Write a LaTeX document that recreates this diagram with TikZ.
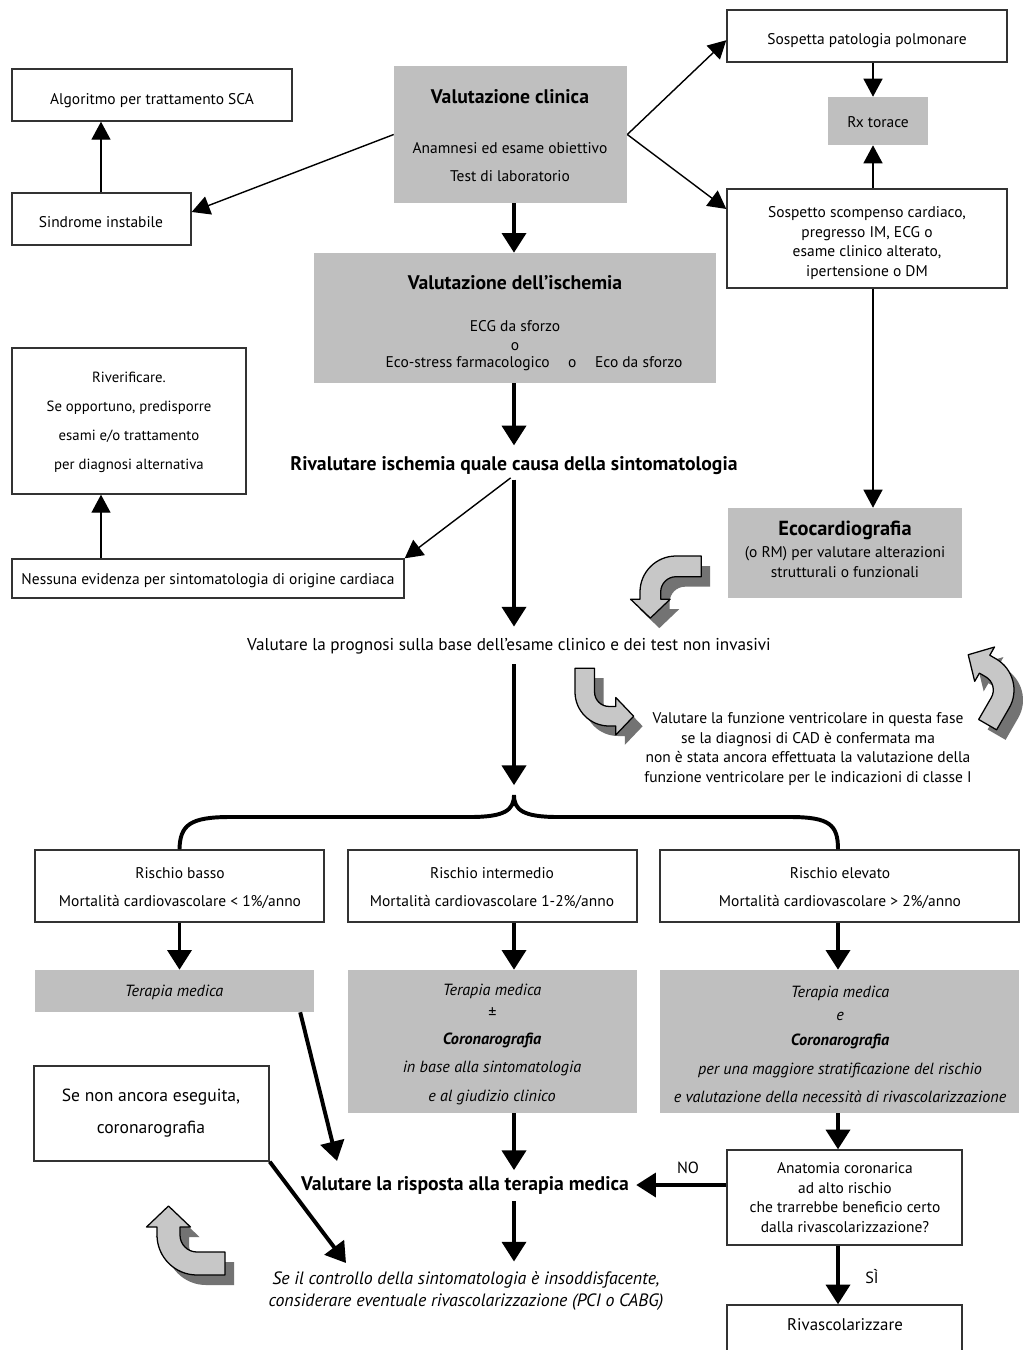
\documentclass[tikz,border=0pt]{standalone}
\usepackage{fontspec}
\setmainfont{PT Sans}
\usetikzlibrary{arrows.meta, fit, positioning}

\definecolor{boxgray}{gray}{0.75}
\definecolor{arrowfill}{gray}{0.78}
\definecolor{arrowshadow}{gray}{0.45}

\tikzset{
  box/.style={draw=black!80, line width=1pt, fill=white, inner sep=0pt},
  graybox/.style={fill=boxgray, inner sep=0pt},
  lbl/.style={inner sep=0pt, align=center, font=\fontsize{11}{13.8}\selectfont},
  ttl/.style={inner sep=0pt, align=center, font=\fontsize{14}{16}\selectfont\bfseries},
  ital/.style={inner sep=0pt, align=center, font=\fontsize{11.5}{13}\selectfont\itshape},
  thinarr/.style={line width=1pt, -{Triangle[length=12.8pt, width=13.5pt]}},
  fatarr/.style={line width=2.8pt, -{Triangle[length=14pt, width=17pt]}},
}

\newcommand{\arrowoutline}{(28,40) -- (0,40) arc[start angle=90, end angle=180, radius=40] -- (-40,-8) -- (-50.5,-8) -- (-28.5,-29) -- (-6.5,-8) -- (-17,-8) -- (-17,0) arc[start angle=180, end angle=90, radius=17] -- (28,17) -- cycle}
\newcommand{\curvedarrow}[2]{%
  \fill[arrowshadow, shift={#1}, shift={(9,10)}, #2] \arrowoutline;
  \filldraw[fill=arrowfill, draw=black, line width=0.9pt, line join=round, shift={#1}, #2] \arrowoutline;}

\begin{document}
\begin{tikzpicture}[x=0.025cm, y=-0.025cm]
\useasboundingbox (0,0) rectangle (1023,1350);
\fill[white] (0,0) rectangle (1023,1350);
\coordinate (ax) at (514,0);
\coordinate (lx) at (101,0);
\coordinate (rxcol) at (873,0);
\coordinate (hx) at (838,0);
\coordinate (bracetip) at (514,795);
\coordinate (risptip) at (337,1161);
\coordinate (ctrltip) at (346,1263);

\node[box, fit={(12,69) (292,121)}] (sca) {};
\node[lbl] (scatxt) at (152,101) {Algoritmo per trattamento SCA};
\node[box, fit={(12,193) (191,245)}] (instab) {};
\node[lbl] (instabtxt) at (101,222) {Sindrome instabile};
\node[graybox, fit={(394,66) (627,203)}] (clin) {};
\node[ttl] (clintitle) at (510,97) {Valutazione clinica};
\node[lbl, font=\fontsize{11}{20}\selectfont] (clintxt) at (510,162) {Anamnesi ed esame obiettivo\\Test di laboratorio};
\node[box, fit={(727,10) (1007,62)}] (polm) {};
\node[lbl] (polmtxt) at (867,41) {Sospetta patologia polmonare};
\node[graybox, fit={(828,97) (928,145)}] (torace) {};
\node[lbl] (toracetxt) at (878,122) {Rx torace};
\node[box, fit={(727,189) (1007,288)}] (scomp) {};
\node[lbl] (scomptxt) at (867,243) {Sospetto scompenso cardiaco,\\pregresso IM, ECG o\\esame clinico alterato,\\ipertensione o DM};

\node[graybox, fit={(314,253) (716,383)}] (isch) {};
\node[ttl] (ischtitle) at (515,283) {Valutazione dell'ischemia};
\node[lbl] (ischtxt) at (515,335.5) {ECG da sforzo\\o};
\node[lbl] (ischalt) at (534,364) {Eco-stress farmacologico\hspace{1.2em}o\hspace{1.2em}Eco da sforzo};
\node[ttl] (rival) at (514,466) {Rivalutare ischemia quale causa della sintomatologia};
\node[box, fit={(12,348) (246,494)}] (riverif) {};
\node[lbl, font=\fontsize{10.5}{20.6}\selectfont] (riveriftxt) at (129,422.5) {Riverificare.\\Se opportuno, predisporre\\esami e/o trattamento\\per diagnosi alternativa};
\node[box, fit={(12,559) (404,598)}] (nessuna) {};
\node[lbl] (nessunatxt) at (208,581) {Nessuna evidenza per sintomatologia di origine cardiaca};
\node[graybox, fit={(728,508) (962,598)}] (eco) {};
\node[ttl, font=\fontsize{14.5}{16}\selectfont\bfseries] (ecotitle) at (845,530) {Ecocardiografia};
\node[lbl, font=\fontsize{11}{14.2}\selectfont] (ecotxt) at (845,562) {(o RM) per valutare alterazioni\\strutturali o funzionali};

\node[lbl, font=\fontsize{12.2}{14}\selectfont] (progn) at (509,646) {Valutare la prognosi sulla base dell'esame clinico e dei test non invasivi};
\node[lbl] (funz) at (808,749) {Valutare la funzione ventricolare in questa fase\\se la diagnosi di CAD è confermata ma\\non è stata ancora effettuata la valutazione della\\funzione ventricolare per le indicazioni di classe I};

\node[box, fit={(35,850) (324,922)}] (basso) {};
\node[lbl, font=\fontsize{11}{20}\selectfont] (bassotxt) at (180,888) {Rischio basso\\Mortalità cardiovascolare < 1\%/anno};
\node[box, fit={(348,850) (637,922)}] (inter) {};
\node[lbl, font=\fontsize{11}{20}\selectfont] (intertxt) at (492,888) {Rischio intermedio\\Mortalità cardiovascolare 1-2\%/anno};
\node[box, fit={(660,850) (1019,922)}] (elev) {};
\node[lbl, font=\fontsize{11}{20}\selectfont] (elevtxt) at (840,888) {Rischio elevato\\Mortalità cardiovascolare > 2\%/anno};

\node[graybox, fit={(35,970) (314,1012)}] (tb) {};
\node[ital] (tbtxt) at (174,992) {Terapia medica};
\node[graybox, fit={(348,970) (637,1113)}] (tm) {};
\node[ital, font=\fontsize{11.5}{20}\selectfont\itshape] (tmtxt) at (492,1044.5) {Terapia medica\\[-3.6pt]±\\[-2.2pt]\textbf{Coronarografia}\\[0.6pt]in base alla sintomatologia\\e al giudizio clinico};
\node[graybox, fit={(660,970) (1019,1113)}] (te) {};
\node[ital, font=\fontsize{11.5}{20}\selectfont\itshape] (tetxt) at (840,1044.5) {Terapia medica\\[-3.6pt]e\\[-2.2pt]\textbf{Coronarografia}\\[0.6pt]per una maggiore stratificazione del rischio\\e valutazione della necessità di rivascolarizzazione};

\node[box, fit={(34,1066) (269,1161)}] (senon) {};
\node[lbl, font=\fontsize{12.5}{22.8}\selectfont] (senontxt) at (151,1113) {Se non ancora eseguita,\\coronarografia};
\node[ttl] (risp) at (465,1185) {Valutare la risposta alla terapia medica};
\node[box, fit={(727,1150) (962,1245)}] (anat) {};
\node[lbl, font=\fontsize{11}{14}\selectfont] (anattxt) at (845,1197.5) {Anatomia coronarica\\ad alto rischio\\che trarrebbe beneficio certo\\dalla rivascolarizzazione?};
\node[box, fit={(727,1305) (962,1370)}] (rivasc) {};
\node[lbl, font=\fontsize{12}{14}\selectfont] (rivasctxt) at (845,1325) {Rivascolarizzare};
\node[ital, font=\fontsize{12.7}{15.6}\selectfont\itshape] (ctrl) at (466,1291) {Se il controllo della sintomatologia è insoddisfacente,\\considerare eventuale rivascolarizzazione (PCI o CABG)};
\node[lbl, font=\fontsize{11.5}{13}\selectfont] (no) at (688,1168) {NO};
\node[lbl, font=\fontsize{11.5}{13}\selectfont] (si) at (872,1277) {SÌ};

\draw[thinarr] (clin.west) -- ([yshift=5pt]instab.east);
\draw[thinarr] (lx |- instab.north) -- (lx |- sca.south);
\draw[thinarr] (clin.east) -- ([yshift=-3pt]polm.west);
\draw[thinarr] (clin.east) -- ([yshift=21pt]scomp.west);
\draw[thinarr] (rxcol |- polm.south) -- (rxcol |- torace.north);
\draw[thinarr] (rxcol |- scomp.north) -- (rxcol |- torace.south);
\draw[thinarr] (rxcol |- scomp.south) -- (rxcol |- eco.north);
\draw[fatarr] (ax |- clin.south) -- (ax |- isch.north);
\draw[fatarr, shorten >=8pt] (ax |- isch.south) -- (ax |- rival.north);
\draw[fatarr, shorten <=3pt, shorten >=8pt] (ax |- rival.south) -- (ax |- progn.north);
\draw[thinarr, shorten <=3pt] (ax |- rival.south) -- (nessuna.north east);
\draw[thinarr] (lx |- nessuna.north) -- (lx |- riverif.south);
\draw[fatarr, shorten <=7pt, shorten >=7pt] (ax |- progn.south) -- (bracetip);

\draw[line width=2.8pt] (basso.north) .. controls (180,825) and (190,817) .. (230,817) -- (470,817) .. controls (505,817) and (514,810) .. (bracetip) .. controls (514,810) and (523,817) .. (558,817) -- (790,817) .. controls (830,817) and (838,825) .. (hx |- elev.north);

\draw[fatarr] (basso.south) -- (basso.south |- tb.north);
\draw[fatarr] (ax |- inter.south) -- (ax |- tm.north);
\draw[fatarr] (hx |- elev.south) -- (hx |- te.north);
\draw[fatarr] ([xshift=-10pt]tb.south east) -- (risptip);
\draw[fatarr, shorten >=4pt] (ax |- tm.south) -- (ax |- risp.north);
\draw[fatarr] (hx |- te.south) -- (hx |- anat.north);
\draw[fatarr, shorten >=5pt] (anat.west |- risp.east) -- (risp.east);
\draw[fatarr, shorten <=5pt, shorten >=7pt] (ax |- risp.south) -- (ax |- ctrl.north);
\draw[fatarr] (senon.south east) -- (ctrltip);
\draw[fatarr] (hx |- anat.south) -- (hx |- rivasc.north);

\curvedarrow{(676,592)}{yscale=-1, scale=0.9}
\curvedarrow{(609,692)}{rotate=-90, xscale=-1, scale=0.85}
\curvedarrow{(978,690)}{rotate=60, xscale=-1, scale=0.9}
\curvedarrow{(197,1235)}{}
\end{tikzpicture}
\end{document}
